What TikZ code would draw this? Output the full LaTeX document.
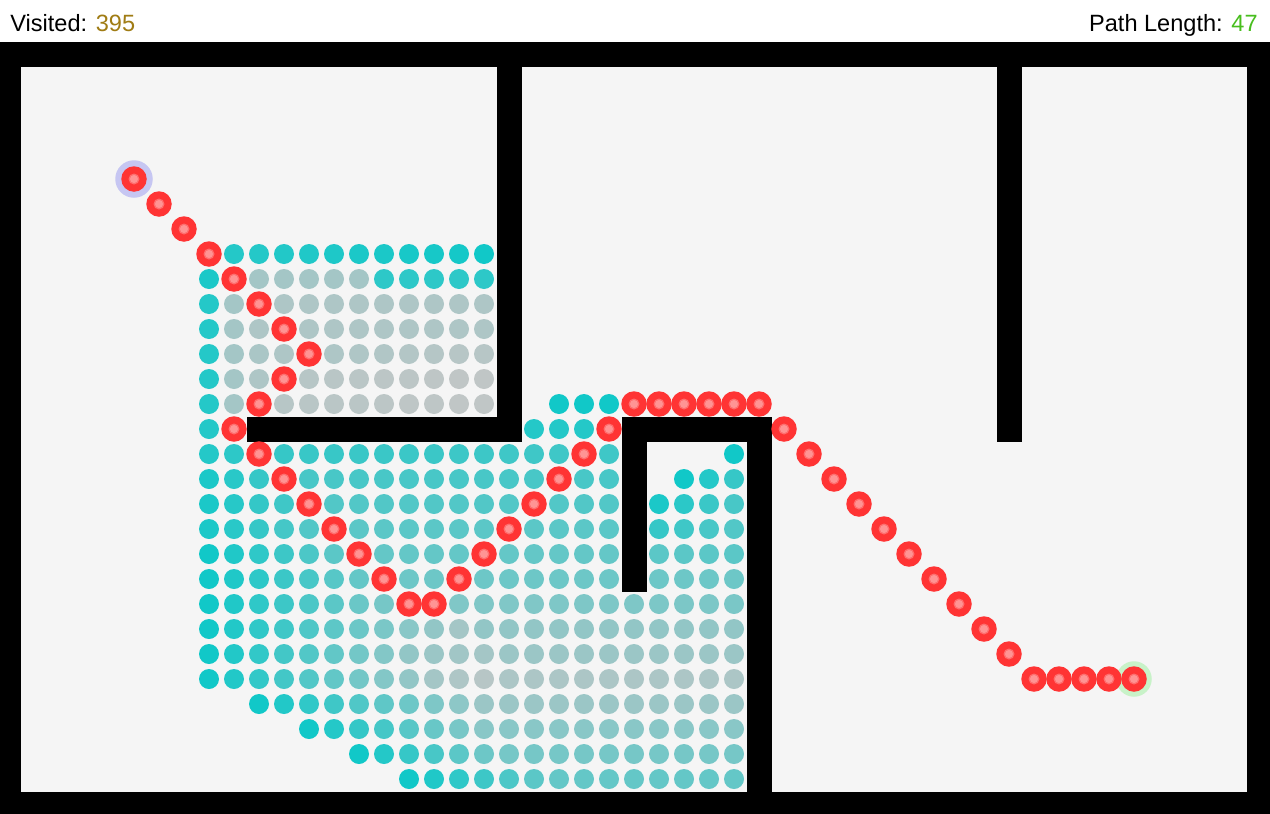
\documentclass[tikz,border=0pt]{standalone}
\usepackage{fontspec}
\setmainfont{Liberation Sans}
\usepackage{tikz}
\definecolor{fieldgray}{HTML}{F5F5F5}
\definecolor{visitnew}{HTML}{08C8C8}
\definecolor{visitold}{HTML}{C0C6C6}
\definecolor{pathred}{HTML}{FF3434}
\definecolor{pathpink}{HTML}{FF9494}
\definecolor{starthalo}{HTML}{C6C6F2}
\definecolor{goalhalo}{HTML}{C8F2C8}
\definecolor{countgold}{HTML}{A07C14}
\definecolor{lengthgreen}{HTML}{48BE1E}
\tikzset{
  wall/.style={fill=black},
  pathdot/.style={fill=pathred},
  pathring/.style={fill=pathpink!60!pathred},
  pathcore/.style={fill=pathpink},
  hud/.style={inner sep=0pt,font=\fontsize{13.4}{16}\selectfont},
}

\begin{document}
\begin{tikzpicture}[x=0.5cm,y=-0.5cm]
  \useasboundingbox[fill=white] (-0.36,-0.16) rectangle (50.44,32.4);
  \clip (-0.36,-0.16) rectangle (50.44,32.4);
  \fill[fieldgray] (0.5,2.5) rectangle (49.5,31.5);
  % walls, given as first col/row to last col/row
  \foreach \ca/\ra/\cb/\rb in {0/2/50/2,0/32/50/32,0/2/0/32,50/2/50/32,
      20/2/20/17,10/17/20/17,40/2/40/17,25/17/30/17,25/17/25/23,30/17/30/32}
    \fill[wall] ({\ca-0.5},{\ra-0.5}) rectangle ({\cb+0.5},{\rb+0.5});
  % visited cells: row/first col/last col/level at first/level at last
  \foreach \r/\a/\b/\la/\lb in {
      10/9/19/8.5/9.5,
      11/8/8/9/9, 11/10/14/1.5/1.5, 11/15/19/8/8,
      12/8/8/8.5/8.5, 12/9/9/1.5/1.5, 12/11/19/1/1,
      13/8/8/8.5/8.5, 13/9/10/1.5/1, 13/12/19/1/1,
      14/8/8/8.5/8.5, 14/9/11/1.5/1, 14/13/19/1/0.5,
      15/8/8/8.5/8.5, 15/9/10/1.5/1, 15/12/19/0.5/0,
      16/8/8/8.5/8.5, 16/9/9/1.5/1.5, 16/11/19/0.5/0, 16/22/24/9.5/9.5,
      17/8/8/8.5/8.5, 17/21/23/8.5/8.5,
      18/8/9/8.5/8, 18/11/22/7.5/7, 18/24/24/7/7, 18/29/29/9.5/9.5,
      19/8/10/9/7.5, 19/12/21/6.5/6.5, 19/23/24/6.5/6.5, 19/27/29/9.5/7.5,
      20/8/11/9/7, 20/13/20/6/6, 20/22/24/6/6, 20/26/29/9/6.5,
      21/8/12/9/6, 21/14/19/5.5/5.5, 21/21/24/5.5/5.5, 21/26/29/7.5/6,
      22/8/13/9.5/5.5, 22/15/18/5/5, 22/20/24/5/5, 22/26/29/5.5/5.5,
      23/8/14/9.5/5, 23/16/17/4.5/4.5, 23/19/24/4.5/4.5, 23/26/29/4.5/4.5,
      24/8/15/9.5/4, 24/18/29/3.5/3.8,
      25/8/16/9.5/3, 25/17/18/2.5/1.5, 25/19/29/2.5/2.5,
      26/8/16/9.5/2.5, 26/17/19/2/1.5, 26/20/29/2/2,
      27/8/16/9.5/2.5, 27/17/19/1.5/0.5, 27/20/29/1.2/1.2,
      28/10/19/9.5/2, 28/20/29/2/2,
      29/12/19/9.5/3, 29/20/29/3/3,
      30/14/19/9.5/4.5, 30/20/29/4/4,
      31/16/21/9.5/5.5, 31/22/29/5/5}
    \foreach \c in {\a,...,\b}{
      \pgfmathtruncatemacro\pct{10*(\la+(\lb-\la)*(\c-\a)/max(\b-\a,1))}
      \fill[visitnew!\pct!visitold] (\c,\r) circle[radius=0.4];
    }
  % start and goal halos
  \fill[starthalo] (5,7) circle[radius=0.75];
  \fill[goalhalo] (45,27) circle[radius=0.71];
  % found path
  \foreach \c/\r in {5/7,6/8,7/9,8/10,9/11,10/12,11/13,12/14,11/15,10/16,9/17,
      10/18,11/19,12/20,13/21,14/22,15/23,16/24,17/24,18/23,19/22,20/21,21/20,
      22/19,23/18,24/17,25/16,26/16,27/16,28/16,29/16,30/16,31/17,32/18,33/19,
      34/20,35/21,36/22,37/23,38/24,39/25,40/26,41/27,42/27,43/27,44/27,45/27}{
    \fill[pathdot] (\c,\r) circle[radius=0.51];
    \fill[pathring] (\c,\r) circle[radius=0.22];
    \fill[pathcore] (\c,\r) circle[radius=0.16];
  }
  \node[hud,anchor=base west] (visitedlabel) at (0.04,1.08) {Visited: \textcolor{countgold}{395}};
  \node[hud,anchor=base east] (lengthlabel) at (49.96,1.08) {Path Length: \textcolor{lengthgreen}{47}};
\end{tikzpicture}
\end{document}
